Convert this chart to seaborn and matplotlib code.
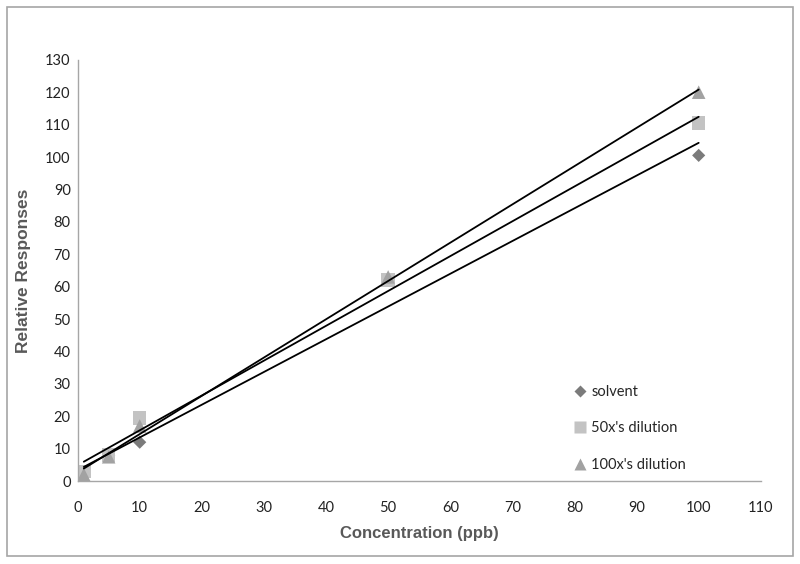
import matplotlib
matplotlib.use("Agg")
import matplotlib.pyplot as plt
from matplotlib.lines import Line2D
from matplotlib.patches import Rectangle
import seaborn as sns
import pandas as pd
import numpy as np

concentration = [1, 5, 10, 50, 100]
solvent = [2, 8, 12, 62, 100.5]
dil50 = [3, 8, 19.5, 62, 110.5]
dil100 = [2, 7.5, 17, 63, 120]
series_names = ["solvent", "50x's dilution", "100x's dilution"]
x_ticks = list(range(0, 111, 10))
y_ticks = list(range(0, 131, 10))

sns.set_style("white")
plt.rcParams['font.family'] = ['Lato', 'DejaVu Sans']

df = pd.DataFrame({
    "x": concentration * 3,
    "y": solvent + dil50 + dil100,
    "series": [series_names[0]] * 5 + [series_names[1]] * 5 + [series_names[2]] * 5,
})

colors = {series_names[0]: "#7b7b7b", series_names[1]: "#c3c3c3", series_names[2]: "#a2a2a2"}
markers = {series_names[0]: "D", series_names[1]: "s", series_names[2]: "^"}
sizes = {series_names[0]: 45, series_names[1]: 95, series_names[2]: 95}

fig = plt.figure(figsize=(8, 5.64), dpi=100)
ax = fig.add_axes([0.097, 0.147, 0.854, 0.747])

for name in series_names:
    sub = df[df["series"] == name]
    sns.scatterplot(data=sub, x="x", y="y", marker=markers[name], color=colors[name],
                    s=sizes[name], edgecolor="none", ax=ax, zorder=2, legend=False)
for name in series_names:
    sub = df[df["series"] == name]
    sns.regplot(data=sub, x="x", y="y", scatter=False, ci=None, truncate=True,
                line_kws={"color": "black", "lw": 1.3, "zorder": 3}, ax=ax)

ax.set_xlim(0, 110)
ax.set_ylim(0, 130)
ax.set_xticks(x_ticks)
ax.set_yticks(y_ticks)
ax.tick_params(axis="y", length=0, labelsize=10.5, colors="#222222", pad=5)
ax.tick_params(axis="x", length=0, labelsize=10.5, colors="#222222", pad=14)
for s in ["top", "right"]:
    ax.spines[s].set_visible(False)
for s in ["left", "bottom"]:
    ax.spines[s].set_color("#a6a6a6")
    ax.spines[s].set_linewidth(1.0)

ax.set_xlabel("Concentration (ppb)", fontsize=12, fontweight="bold", color="#595959",
              family=["Liberation Sans", "DejaVu Sans"], labelpad=8)
ax.set_ylabel("Relative Responses", fontsize=12.5, fontweight="bold", color="#595959",
              family=["Liberation Sans", "DejaVu Sans"], labelpad=10)

handles = [Line2D([], [], ls="none", marker=markers[n], color=colors[n],
                  markersize=(6.5 if n == series_names[0] else 9), markeredgecolor="none")
           for n in series_names]
ax.legend(handles, series_names, loc="upper left", bbox_to_anchor=(0.700, 0.341),
          bbox_transform=fig.transFigure, frameon=False, fontsize=10.5,
          handletextpad=0.25, handlelength=1.0, labelspacing=1.55)

fig.patches.append(Rectangle((0.009, 0.014), 0.982, 0.973, transform=fig.transFigure,
                             fill=False, edgecolor="#a6a6a6", lw=1.2))

fig.savefig("out.png", dpi=100)
